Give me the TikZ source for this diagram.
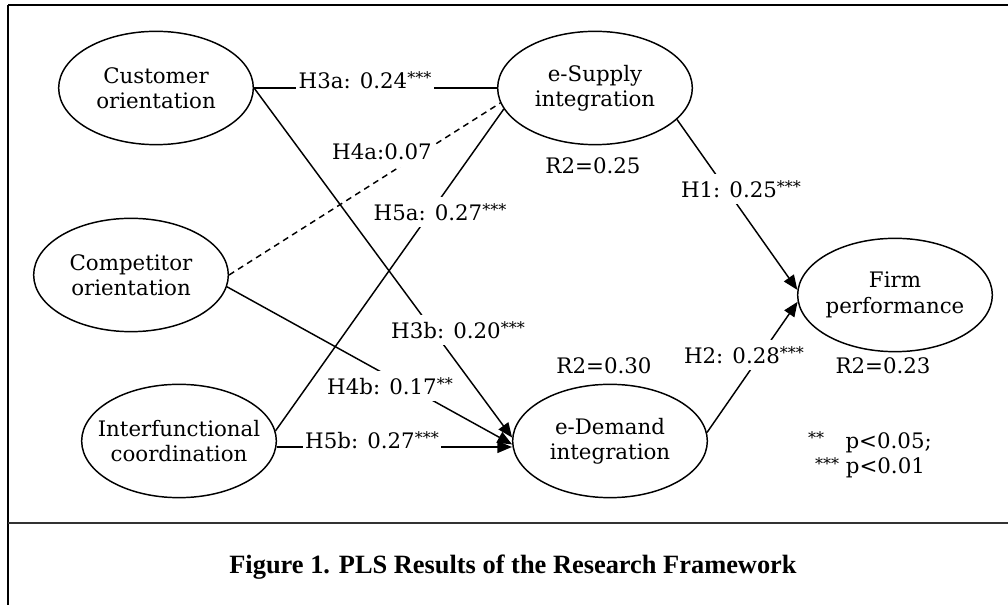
\documentclass[tikz,border=0pt]{standalone}
\usepackage{fontspec}
\setmainfont{DejaVu Serif}
\newfontfamily\capfont{Liberation Serif}
\usetikzlibrary{shapes.geometric,arrows.meta}
% significance stars, set small and raised
\newcommand\sigstars[1]{\raisebox{0.22em}{\fontsize{12}{12}\selectfont #1}}
\begin{document}
\begin{tikzpicture}[x=0.75pt,y=-0.75pt,
  construct/.style={ellipse,draw,line width=1.1pt,minimum width=146pt,minimum height=85pt,
    inner xsep=-25pt,inner ysep=0pt,align=center,font=\fontsize{16}{19}\selectfont},
  link/.style={line width=1.1pt},
  arrowlink/.style={link,-{Triangle[length=11pt,width=9pt]}},
  coeff/.style={fill=white,inner xsep=2pt,inner ysep=5pt,font=\fontsize{16}{18}\selectfont},
  rsq/.style={inner sep=1pt,font=\fontsize{16}{19}\selectfont},
  frameline/.style={line width=1.5pt}]
\useasboundingbox (0,0) rectangle (1008,605);

% frame and caption rule
\draw[frameline] (8,5) -- (1008,5);
\draw[frameline] (8,5) -- (8,605);
\draw[frameline, black!80] (8,523) -- (1008,523);

% constructs
\node[construct] (cust) at (156,88)  {Customer\\orientation};
\node[construct] (comp) at (131,275) {Competitor\\orientation};
\node[construct] (ifc)  at (179,441) {Interfunctional\\coordination};
\node[construct] (sup)  at (595,88)  {e-Supply\\integration};
\node[construct] (dem)  at (610,441) {e-Demand\\integration};
\node[construct] (firm) at (895,295) {Firm\\performance};

% structural paths
\draw[link] (cust.east) -- (sup.west);
\draw[arrowlink] (cust.east) -- (dem.178);
\draw[link, dash pattern=on 4.5pt off 3.5pt] (comp.east) -- (sup.189);
\draw[arrowlink] (comp.-7) -- (dem.182);
\draw[link] (ifc.6) -- (sup.193);
\draw[arrowlink] ([yshift=-4.5pt]ifc.east) -- ([yshift=-4.5pt]dem.west);
\draw[arrowlink] (sup.-21) -- (firm.177);
\draw[arrowlink] (dem.5) -- (firm.184);

% path coefficients
\node[coeff] (h3a) at (365,80)  {H3a: 0.24\sigstars{***}};
\node[coeff] (h4a) at (382,152) {H4a:0.07};
\node[coeff] (h5a) at (440,212) {H5a: 0.27\sigstars{***}};
\node[coeff] (h3b) at (458,330) {H3b: 0.20\sigstars{***}};
\node[coeff] (h4b) at (390,386) {H4b: 0.17\sigstars{**}};
\node[coeff] (h5b) at (372,440) {H5b: 0.27\sigstars{***}};
\node[coeff] (h1)  at (741,189) {H1: 0.25\sigstars{***}};
\node[coeff] (h2)  at (744,355) {H2: 0.28\sigstars{***}};

% explained variance
\node[rsq] (r2sup)  at (593,166) {R2=0.25};
\node[rsq] (r2dem)  at (604,366) {R2=0.30};
\node[rsq] (r2firm) at (883,366) {R2=0.23};

% significance legend
\node[rsq, align=center] (legend) at (870,455)
  {\sigstars{**}\quad p<0.05;\\\sigstars{***} p<0.01};

% caption
\node[anchor=base, font=\capfont\bfseries\fontsize{19.8}{22}\selectfont] (caption) at (513,574)
  {Figure 1. PLS Results of the Research Framework};
\end{tikzpicture}
\end{document}
